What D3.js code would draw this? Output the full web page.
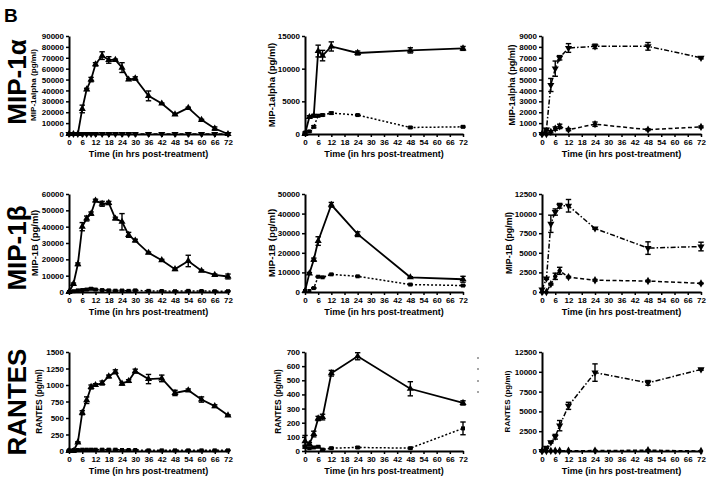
<!DOCTYPE html>
<html><head><meta charset="utf-8">
<script src="https://cdn.jsdelivr.net/npm/d3@7"></script>
<style>
body{margin:0;background:#fff}
svg text{font-family:"Liberation Sans",Arial,sans-serif;font-weight:bold;fill:#000}
</style>
</head><body>
<svg id="c" width="717" height="491"></svg>
<script>
// ---------- DATA ----------
const hoursLong = [0,2,4,6,8,10,12,15,18,21,24,27,30,36,42,48,54,60,66,72];
const hoursShort = [0,2,4,6,8,12,24,48,72];
const hoursShortNo8 = [0,2,4,6,12,24,48,72];
const xTicks = [0,6,12,18,24,30,36,42,48,54,60,66,72];

// Row 1: MIP-1alpha
const mip1aLeftMain = [0,0,0,23000,41000,50000,64000,72000,68000,68000,61000,50000,51000,35000,28000,18000,24000,13000,5000,0];
const mip1aLeftMainErr = [0,0,0,3500,1000,2000,1500,3500,3000,800,4500,800,1500,4500,500,800,600,500,1500,0];
const mip1aLeftFlat = [0,0,0,0,0,0,0,0,0,0,0,0,0,0,0,0,0,0,0,0];
const mip1aMidSolid = [0,2600,2800,12700,12000,13400,12400,12800,13100];
const mip1aMidSolidErr = [0,200,200,900,800,700,300,400,300];
const mip1aMidDotted = [200,400,1100,2800,2900,3200,2900,1000,1100];
const mip1aMidDottedErr = [100,100,150,150,150,150,100,100,100];
const mip1aRightDashDot = [0,400,4500,6000,7000,7900,8050,8050,7000];
const mip1aRightDashDotErr = [0,100,600,700,200,400,200,350,100];
const mip1aRightDashed = [0,0,200,500,700,400,900,400,650];
const mip1aRightDashedErr = [0,0,100,150,200,100,200,80,80];

// Row 2: MIP-1beta
const mip1bLeftMain = [0,5000,17000,40000,45000,48000,56000,54000,54500,45000,43000,35000,31500,24000,19500,14000,19000,13000,10500,9500];
const mip1bLeftMainErr = [0,500,800,2500,1500,1000,800,1500,1000,800,5000,1500,800,500,500,800,3500,500,500,1500];
const mip1bLeftFlat = [0,500,1000,1200,1500,2000,1500,1200,1000,800,900,700,1000,700,600,500,700,600,500,500];
const mip1bLeftFlatErr = [0,300,300,400,500,500,400,300,300,300,300,300,300,300,300,300,300,300,300,300];
const mip1bMidSolid = [500,9500,16500,26000,44500,29500,7500,6500];
const mip1bMidSolidErr = [0,500,800,2200,1200,1200,300,1500];
const mip1bMidDotted = [500,500,2000,7800,7500,9000,8000,3800,3300];
const mip1bMidDottedErr = [0,0,200,200,200,200,200,200,200];
const mip1bRightDashDot = [300,1700,8700,10200,11000,11000,8100,5600,5800];
const mip1bRightDashDotErr = [0,100,1100,400,300,800,100,800,550];
const mip1bRightDashed = [0,0,1000,2000,2700,1900,1500,1400,1100];
const mip1bRightDashedErr = [0,0,100,400,450,100,100,100,50];

// Row 3: RANTES
const rantesLeftMain = [0,0,130,580,770,970,1000,1030,1130,1200,1020,1060,1210,1090,1100,880,920,780,680,540];
const rantesLeftMainErr = [0,0,10,30,50,30,20,30,20,30,20,20,30,70,50,40,20,40,20,10];
const rantesLeftFlat = [10,15,15,20,20,20,20,20,20,20,15,15,15,10,10,10,10,10,10,10];
const rantesLeftFlatErr = [5,5,5,8,8,8,8,8,8,8,5,5,5,5,5,5,5,5,5,5];
const rantesMidSolid = [70,50,120,230,240,550,670,440,340];
const rantesMidSolidErr = [40,10,20,15,20,20,25,50,15];
const rantesMidDotted = [30,20,25,30,10,20,25,20,160];
const rantesMidDottedErr = [10,5,5,5,5,5,5,5,45];
const rantesRightDashDot = [0,400,1100,1800,3200,5700,9900,8600,10300];
const rantesRightDashDotErr = [0,100,100,300,650,450,1100,300,100];
const rantesRightDashed = [0,0,20,30,30,30,50,100,0];
const rantesRightDashedErr = [0,0,0,0,0,0,0,40,0];

const yTicks1 = d3.range(0, 90001, 10000);
const yTicks2 = [0,5000,10000,15000];
const yTicks3 = d3.range(0, 9001, 1000);
const yTicks4 = d3.range(0, 60001, 10000);
const yTicks5 = d3.range(0, 50001, 10000);
const yTicks6 = [0,2500,5000,7500,10000,12500];
const yTicks7 = [0,250,500,750,1000,1250,1500];
const yTicks8 = d3.range(0, 701, 100);
const yTicks9 = [0,2500,5000,7500,10000,12500];

const rowLabels = ["MIP-1\u03b1", "MIP-1\u03b2", "RANTES"];
const xTitle = "Time (in hrs post-treatment)";

// ---------- LAYOUT ----------
const cols = [{x0:69,x1:228},{x0:305,x1:463},{x0:542,x1:701}];
const rows = [{top:36,bot:134},{top:194,bot:292},{top:352,bot:451}];

const S = (t, v, e, marker, dash) => ({t, v, e, marker, dash});
const panels = [
 {r:0,c:0,ticks:yTicks1,tkfs:8,title:"MIP-1alpha (pg/ml)",tfs:8.1,tx:33,series:[
   S(hoursLong,mip1aLeftFlat,null,"tridown","4,2.5"),
   S(hoursLong,mip1aLeftMain,mip1aLeftMainErr,"tri",null)]},
 {r:0,c:1,ticks:yTicks2,tkfs:8,title:"MIP-1alpha (pg/ml)",tfs:9.5,tx:272,series:[
   S(hoursShort,mip1aMidDotted,mip1aMidDottedErr,"square","2,2"),
   S(hoursShort,mip1aMidSolid,mip1aMidSolidErr,"tri",null)]},
 {r:0,c:2,ticks:yTicks3,tkfs:8,title:"MIP-1alpha (pg/ml)",tfs:9.1,tx:512,series:[
   S(hoursShort,mip1aRightDashed,mip1aRightDashedErr,"diamond","4,2.5"),
   S(hoursShort,mip1aRightDashDot,mip1aRightDashDotErr,"tridown","5,2,1.5,2")]},
 {r:1,c:0,ticks:yTicks4,tkfs:8,title:"MIP-1B (pg/ml)",tfs:9.5,tx:35,series:[
   S(hoursLong,mip1bLeftFlat,mip1bLeftFlatErr,"square","2,2"),
   S(hoursLong,mip1bLeftMain,mip1bLeftMainErr,"tri",null)]},
 {r:1,c:1,ticks:yTicks5,tkfs:8,title:"MIP-1B (pg/ml)",tfs:9.8,tx:272,series:[
   S(hoursShort,mip1bMidDotted,mip1bMidDottedErr,"square","2,2"),
   S(hoursShortNo8,mip1bMidSolid,mip1bMidSolidErr,"tri",null)]},
 {r:1,c:2,ticks:yTicks6,tkfs:8,title:"MIP-1B (pg/ml)",tfs:8.9,tx:509,series:[
   S(hoursShort,mip1bRightDashed,mip1bRightDashedErr,"diamond","4,2.5"),
   S(hoursShort,mip1bRightDashDot,mip1bRightDashDotErr,"tridown","5,2,1.5,2")]},
 {r:2,c:0,ticks:yTicks7,tkfs:8,title:"RANTES (pg/ml)",tfs:8.4,tx:39,series:[
   S(hoursLong,rantesLeftFlat,rantesLeftFlatErr,"square","2,2"),
   S(hoursLong,rantesLeftMain,rantesLeftMainErr,"tri",null)]},
 {r:2,c:1,ticks:yTicks8,tkfs:8,title:"RANTES (pg/ml)",tfs:8.4,tx:278,series:[
   S(hoursShort,rantesMidDotted,rantesMidDottedErr,"square","2,2"),
   S(hoursShort,rantesMidSolid,rantesMidSolidErr,"tri",null)]},
 {r:2,c:2,ticks:yTicks9,tkfs:8,title:"RANTES (pg/ml)",tfs:8.0,tx:507,series:[
   S(hoursShort,rantesRightDashed,rantesRightDashedErr,"diamond","4,2.5"),
   S(hoursShort,rantesRightDashDot,rantesRightDashDotErr,"tridown","5,2,1.5,2")]}
];

const svg = d3.select("#c");
svg.append("rect").attr("width",717).attr("height",491).attr("fill","#fff");

// Panel letter
svg.append("text").attr("x",4).attr("y",22).attr("font-size",19).text("B");

// Row labels (baseline at x=25, reading bottom-to-top)
const rowLabelY = [82, 248, 402];
rowLabels.forEach((lab,i)=>{
  svg.append("text")
    .attr("transform",`translate(25.5,${rowLabelY[i]}) rotate(-90)`)
    .attr("text-anchor","middle")
    .attr("font-size",26).text(lab);
});

const symbolOf = m => m==="square" ? d3.symbol(d3.symbolSquare,16)
  : m==="diamond" ? d3.symbol(d3.symbolDiamond,20)
  : d3.symbol(d3.symbolTriangle,22);

panels.forEach(p=>{
  const C = cols[p.c], R = rows[p.r];
  const x = d3.scaleLinear().domain([0,72]).range([C.x0,C.x1]);
  const y = d3.scaleLinear().domain([0,d3.max(p.ticks)]).range([R.bot,R.top]);
  const g = svg.append("g");

  // axes
  const xa = g.append("g").attr("transform",`translate(0,${R.bot})`)
    .call(d3.axisBottom(x).tickValues(xTicks).tickSize(3).tickSizeOuter(0).tickPadding(2));
  const ya = g.append("g").attr("transform",`translate(${C.x0},0)`)
    .call(d3.axisLeft(y).tickValues(p.ticks).tickSize(3).tickSizeOuter(0).tickPadding(2).tickFormat(d3.format("d")));
  [xa,ya].forEach(a=>{
    a.select(".domain").attr("stroke","#000").attr("stroke-width",2);
    a.selectAll(".tick line").attr("stroke","#000").attr("stroke-width",1.5);
    a.selectAll("text").attr("font-size",p.tkfs).attr("font-family",null).attr("fill","#000");
  });

  // titles
  g.append("text").attr("x",(C.x0+C.x1)/2).attr("y",R.bot+23)
    .attr("text-anchor","middle").attr("font-size",9).text(xTitle);
  g.append("text")
    .attr("transform",`translate(${p.tx},${(R.top+R.bot)/2}) rotate(-90)`)
    .attr("text-anchor","middle").attr("dy","0.35em")
    .attr("font-size",p.tfs).text(p.title);

  p.series.forEach(s=>{
    const pts = s.t.map((t,i)=>({t, v:s.v[i], e:s.e? s.e[i]:0}));
    g.append("path").datum(pts)
      .attr("fill","none").attr("stroke","#000").attr("stroke-width",s.dash?1.5:1.8)
      .attr("stroke-dasharray",s.dash)
      .attr("d",d3.line().x(d=>x(d.t)).y(d=>y(d.v)));
    const eb = g.append("g").attr("stroke","#000").attr("stroke-width",1.4);
    pts.filter(d=>d.e>0).forEach(d=>{
      const xx=x(d.t), y1=y(d.v+d.e), y2=y(Math.max(0,d.v-d.e));
      eb.append("line").attr("x1",xx).attr("x2",xx).attr("y1",y1).attr("y2",y2);
      eb.append("line").attr("x1",xx-2.7).attr("x2",xx+2.7).attr("y1",y1).attr("y2",y1);
      eb.append("line").attr("x1",xx-2.7).attr("x2",xx+2.7).attr("y1",y2).attr("y2",y2);
    });
    g.append("g").selectAll("path").data(pts).join("path")
      .attr("d",symbolOf(s.marker))
      .attr("transform",d=>`translate(${x(d.t)},${y(d.v)})${s.marker==="tridown"?" rotate(180)":""}`)
      .attr("fill","#000");
  });
});

// tiny legend remnants beside middle RANTES panel
const legendDots = [358,369,381,392];
svg.append("g").selectAll("circle").data(legendDots).join("circle")
  .attr("cx",478).attr("cy",d=>d).attr("r",0.8).attr("fill","#333");
</script>
</body></html>
